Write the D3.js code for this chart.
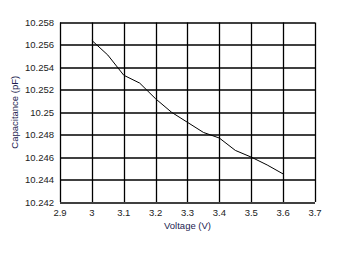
<!DOCTYPE html>
<html>
<head>
<meta charset="utf-8">
<script src="https://cdn.jsdelivr.net/npm/d3@7"></script>
<style>
  body { margin: 0; background: #fff; }
  text { font-family: "Liberation Sans", Arial, sans-serif; }
</style>
</head>
<body>
<div id="chart"></div>
<script>
// values
var voltage = [3.0, 3.05, 3.1, 3.15, 3.2, 3.25, 3.3, 3.35, 3.4, 3.45, 3.5, 3.55, 3.6];
var capacitance = [10.2564, 10.2551, 10.2533, 10.2526, 10.2512, 10.2500, 10.2491, 10.2482, 10.2477, 10.2466, 10.2460, 10.2453, 10.2445];
var xTicks = [2.9, 3, 3.1, 3.2, 3.3, 3.4, 3.5, 3.6, 3.7];
var yTicks = [10.242, 10.244, 10.246, 10.248, 10.25, 10.252, 10.254, 10.256, 10.258];

var W = 344, H = 254,
  margin = { top: 22.5, right: 29, bottom: 52, left: 60 },
  width = W - margin.left - margin.right,
  height = H - margin.top - margin.bottom;

var svg = d3.select("#chart").append("svg")
  .attr("width", W).attr("height", H);

var g = svg.append("g")
  .attr("transform", "translate(" + margin.left + "," + margin.top + ")");

var x = d3.scaleLinear().domain([2.9, 3.7]).range([0, width]);
var y = d3.scaleLinear().domain([10.242, 10.258]).range([height, 0]);

// grid
g.selectAll(".vgrid").data(xTicks).enter().append("line")
  .attr("x1", function (d) { return Math.round(x(d)) + 0.5; })
  .attr("x2", function (d) { return Math.round(x(d)) + 0.5; })
  .attr("y1", 0).attr("y2", height)
  .attr("stroke", "#000").attr("stroke-width", 1.3);

g.selectAll(".hgrid").data(yTicks).enter().append("line")
  .attr("y1", function (d) { return Math.round(y(d)) + 0.5; })
  .attr("y2", function (d) { return Math.round(y(d)) + 0.5; })
  .attr("x1", 0).attr("x2", width)
  .attr("stroke", "#000").attr("stroke-width", 1.3);

// tick labels
g.selectAll(".xl").data(xTicks).enter().append("text")
  .attr("x", function (d) { return x(d); })
  .attr("y", height + 14)
  .attr("text-anchor", "middle")
  .attr("font-size", 9.5)
  .attr("fill", "#222")
  .text(function (d) { return d; });

g.selectAll(".yl").data(yTicks).enter().append("text")
  .attr("x", -6)
  .attr("y", function (d) { return y(d) + 3.5; })
  .attr("text-anchor", "end")
  .attr("font-size", 9.5)
  .attr("fill", "#222")
  .text(function (d) { return d; });

// line
var line = d3.line()
  .x(function (d, i) { return x(voltage[i]); })
  .y(function (d) { return y(d); });

g.append("path")
  .datum(capacitance)
  .attr("d", line)
  .attr("fill", "none")
  .attr("stroke", "#000")
  .attr("stroke-width", 1);

// axis titles
svg.append("text")
  .attr("x", margin.left + x(3.3))
  .attr("y", 229)
  .attr("text-anchor", "middle")
  .attr("font-size", 9.5)
  .attr("fill", "#1c1c50")
  .text("Voltage (V)");

svg.append("text")
  .attr("transform", "translate(18," + (margin.top + height / 2) + ") rotate(-90)")
  .attr("text-anchor", "middle")
  .attr("font-size", 9.5)
  .attr("fill", "#1c1c50")
  .text("Capacitance (pF)");
</script>
</body>
</html>
